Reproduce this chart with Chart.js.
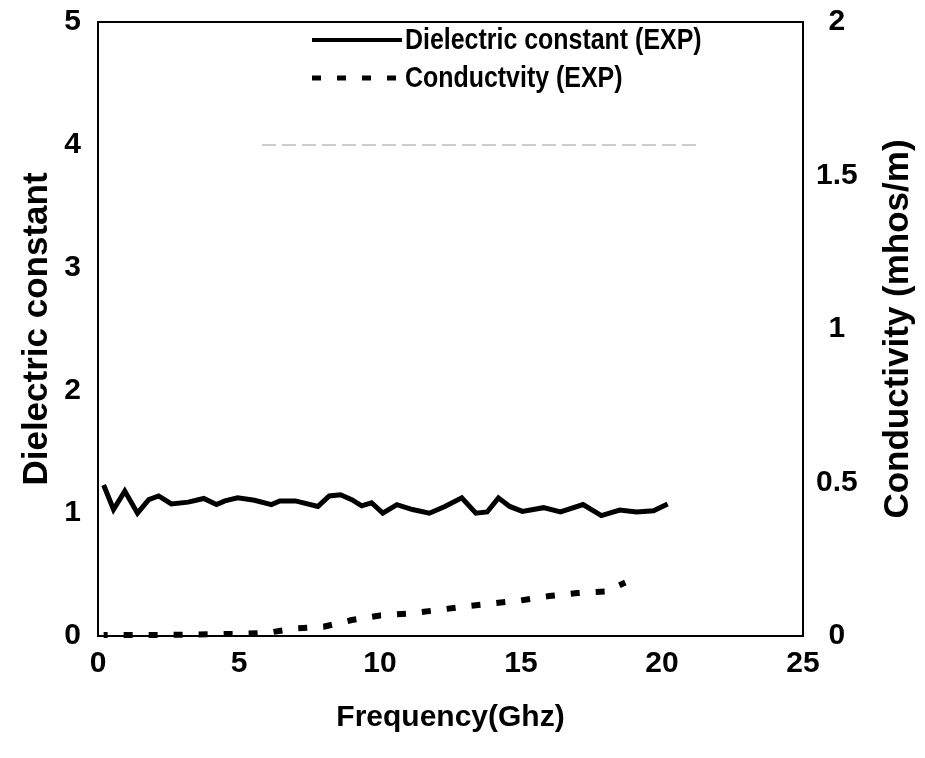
<!DOCTYPE html>
<html>
<head>
<meta charset="utf-8">
<script src="https://cdn.jsdelivr.net/npm/chart.js@4.4.1/dist/chart.umd.min.js"></script>
<style>
  body { margin: 0; background: #fff; }
  #wrap { width: 925px; height: 758px; }
</style>
</head>
<body>
<div id="wrap"><canvas id="chart"></canvas></div>
<script>
// Dielectric constant (EXP)
const freqDiel = [0.2, 0.55, 0.95, 1.4, 1.8, 2.15, 2.6, 3.2, 3.75, 4.2, 4.5, 4.95, 5.55, 6.15, 6.45, 7.0,
    7.8, 8.2, 8.6, 9.0, 9.35, 9.7, 10.1, 10.6, 11.15, 11.75, 12.3, 12.9, 13.4, 13.8, 14.2, 14.6,
    15.05, 15.8, 16.4, 17.2, 17.85, 18.5, 19.1, 19.7, 20.2];
const dielValues = [1.23, 1.03, 1.18, 1.0, 1.11, 1.14, 1.075, 1.09, 1.12, 1.07, 1.10, 1.125, 1.105, 1.07, 1.10, 1.10,
    1.055, 1.14, 1.15, 1.11, 1.06, 1.085, 1.0, 1.07, 1.03, 1.0, 1.055, 1.125, 1.0, 1.01, 1.125, 1.055,
    1.015, 1.045, 1.01, 1.07, 0.98, 1.025, 1.01, 1.02, 1.075];

// Conductivity (EXP), mhos/m
const freqCond = [0.2, 1, 2, 3, 4, 5, 6, 7, 8, 9, 10, 11, 12, 13, 14, 15, 16, 17, 18, 18.7];
const condValues = [0.003, 0.003, 0.003, 0.004, 0.006, 0.007, 0.01, 0.025, 0.03, 0.052, 0.067, 0.073,
    0.084, 0.096, 0.106, 0.116, 0.13, 0.14, 0.145, 0.174];

const xTicks = [0, 5, 10, 15, 20, 25];
const leftTicks = [0, 1, 2, 3, 4, 5];
const rightTicks = [0, 0.5, 1, 1.5, 2];

const FAMILY = '"Liberation Sans", Arial, sans-serif';
const tickFont = { family: FAMILY, size: 30, weight: 'bold' };
const xTitleFont = { family: FAMILY, size: 30, weight: 'bold' };
const yTitleFont = { family: FAMILY, size: 35, weight: 'bold' };

// frame, legend and the right hand title (reads bottom to top like the left one)
const extras = {
    id: 'extras',
    afterDraw(chart) {
        const ctx = chart.ctx;
        const a = chart.chartArea;
        ctx.save();
        ctx.strokeStyle = '#000';
        ctx.lineWidth = 2;
        ctx.strokeRect(a.left, a.top, a.right - a.left, a.bottom - a.top);

        // faint legend box bottom edge
        ctx.strokeStyle = '#999';
        ctx.lineWidth = 1;
        ctx.setLineDash([14, 6]);
        ctx.beginPath();
        ctx.moveTo(262, 145);
        ctx.lineTo(697, 145);
        ctx.stroke();

        // legend
        const ds = chart.data.datasets;
        ctx.textBaseline = 'middle';
        ctx.fillStyle = '#000';
        ctx.strokeStyle = '#000';
        const rows = [40, 78];
        ds.forEach((d, i) => {
            ctx.lineWidth = d.borderDash ? 5 : 4;
            ctx.setLineDash(d.borderDash || []);
            ctx.beginPath();
            ctx.moveTo(312, rows[i]);
            ctx.lineTo(402, rows[i]);
            ctx.stroke();
            // text looks squeezed sideways in the original
            ctx.save();
            ctx.translate(405, rows[i] + 1);
            ctx.scale(0.86, 1);
            ctx.font = 'bold 29px ' + FAMILY;
            ctx.fillText(d.label, 0, 0);
            ctx.restore();
        });

        // right axis title
        ctx.font = 'bold 35px ' + FAMILY;
        ctx.translate(898, (a.top + a.bottom) / 2);
        ctx.rotate(-Math.PI / 2);
        ctx.textAlign = 'center';
        ctx.fillText('Conductivity (mhos/m)', 0, 0);
        ctx.restore();
    }
};

new Chart(document.getElementById('chart'), {
    type: 'line',
    data: {
        datasets: [{
            label: 'Dielectric constant (EXP)',
            data: freqDiel.map((f, i) => ({ x: f, y: dielValues[i] })),
            borderColor: '#000',
            borderWidth: 5,
            pointRadius: 0,
            tension: 0,
            yAxisID: 'y',
            clip: false
        }, {
            label: 'Conductvity (EXP)',
            data: freqCond.map((f, i) => ({ x: f, y: condValues[i] })),
            borderColor: '#000',
            borderWidth: 6,
            borderDash: [9, 16],
            borderDashOffset: 5,
            pointRadius: 0,
            tension: 0,
            yAxisID: 'y2',
            clip: false
        }]
    },
    options: {
        responsive: true,
        maintainAspectRatio: false,
        animation: false,
        layout: { padding: { top: 22, left: 0, right: 0, bottom: 0 } },
        plugins: { legend: { display: false }, tooltip: { enabled: false } },
        scales: {
            x: {
                type: 'linear',
                min: 0,
                max: 25,
                afterBuildTicks: s => { s.ticks = xTicks.map(v => ({ value: v })); },
                afterFit: s => { s.height = 122; },
                grid: { display: false, drawTicks: false },
                border: { display: true, color: '#000', width: 2 },
                ticks: { color: '#000', font: tickFont, padding: 10, maxRotation: 0 },
                title: { display: true, text: 'Frequency(Ghz)', color: '#000', font: xTitleFont,
                    padding: { top: 0, bottom: 22 } }
            },
            y: {
                position: 'left',
                min: 0,
                max: 5,
                afterBuildTicks: s => { s.ticks = leftTicks.map(v => ({ value: v })); },
                afterFit: s => { s.width = 98; s.paddingTop = 0; s.paddingBottom = 0; },
                grid: { display: false, drawTicks: false },
                border: { display: true, color: '#000', width: 2 },
                ticks: { color: '#000', font: tickFont, padding: 17 },
                title: { display: true, text: 'Dielectric constant', color: '#000', font: yTitleFont,
                    padding: { top: 16, bottom: 0 } }
            },
            y2: {
                position: 'right',
                min: 0,
                max: 2,
                afterBuildTicks: s => { s.ticks = rightTicks.map(v => ({ value: v })); },
                afterFit: s => { s.width = 122; s.paddingTop = 0; s.paddingBottom = 0; },
                grid: { display: false, drawTicks: false },
                border: { display: true, color: '#000', width: 2 },
                ticks: { color: '#000', font: tickFont, padding: 13, crossAlign: 'center',
                    callback: v => String(v) }
            }
        }
    },
    plugins: [extras]
});
</script>
</body>
</html>
